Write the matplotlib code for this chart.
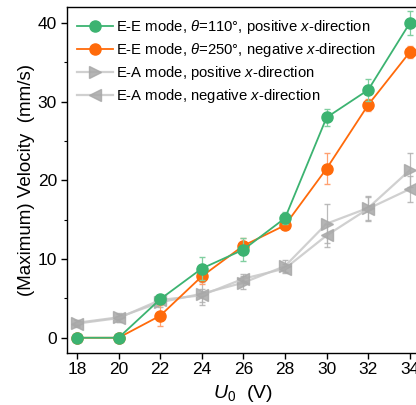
import matplotlib
matplotlib.use("Agg")
import matplotlib.pyplot as plt
from matplotlib.ticker import MultipleLocator

plt.rcParams['font.family'] = ['Liberation Sans', 'DejaVu Sans']
plt.rcParams['mathtext.fontset'] = 'custom'
plt.rcParams['mathtext.rm'] = 'Liberation Sans'
plt.rcParams['mathtext.it'] = 'Liberation Sans:italic'

U0 = [18, 20, 22, 24, 26, 28, 30, 32, 34]
ee_pos = [0, 0, 4.9, 8.8, 11.2, 15.2, 28.0, 31.5, 40.0]
ee_pos_err = [0, 0, 0.5, 1.4, 1.5, 0.8, 1.1, 1.4, 1.5]
ee_neg = [0, 0, 2.8, 7.8, 11.7, 14.3, 21.5, 29.6, 36.3]
ee_neg_err = [0, 0, 1.3, 1.0, 1.0, 0.5, 2.0, 0.8, 0.8]
ea_pos = [1.9, 2.6, 4.5, 5.6, 7.0, 9.1, 14.5, 16.5, 21.3]
ea_pos_err = [0.4, 0.6, 0.6, 1.5, 0.8, 0.8, 2.5, 1.5, 2.2]
ea_neg = [1.8, 2.5, 4.8, 5.4, 7.5, 8.8, 13.0, 16.4, 18.9]
ea_neg_err = [0.4, 0.5, 0.5, 0.8, 0.6, 0.6, 1.5, 1.5, 1.6]

labels = [r'E-E mode, $\theta$=110°, positive $x$-direction',
          r'E-E mode, $\theta$=250°, negative $x$-direction',
          r'E-A mode, positive $x$-direction',
          r'E-A mode, negative $x$-direction']

green = '#3cb371'
orange = '#ff6a0a'

fig = plt.figure(figsize=(4.16, 4.05), dpi=100)
ax = fig.add_axes([66.6/416, 1-352.7/405, 353.6/416, (352.7-7.3)/405])

# gray series
c_ep = ax.errorbar(U0, ea_pos, yerr=ea_pos_err, color='#c8c8c8', lw=1.6, marker='>', ms=8,
                   mfc='#a8a8a8', mec='#a8a8a8', ecolor='#b0b0b0', elinewidth=0.9, capsize=2.5,
                   alpha=0.85, zorder=2)
c_en = ax.errorbar(U0, ea_neg, yerr=ea_neg_err, color='#c8c8c8', lw=1.6, marker='<', ms=8,
                   mfc='#a8a8a8', mec='#a8a8a8', ecolor='#b0b0b0', elinewidth=0.9, capsize=2.5,
                   alpha=0.85, zorder=2)
# orange
c_on = ax.errorbar(U0, ee_neg, yerr=ee_neg_err, color=orange, lw=1.3, marker='o', ms=8,
                   mfc=orange, mec=orange, ecolor='#ffa070', elinewidth=0.9, capsize=2.5,
                   zorder=3)
# green
c_gp = ax.errorbar(U0, ee_pos, yerr=ee_pos_err, color=green, lw=1.3, marker='o', ms=8,
                   mfc=green, mec=green, ecolor='#80cfa0', elinewidth=0.9, capsize=2.5,
                   zorder=4)

ax.set_xlim(17.5, 34.5)
ax.set_ylim(-1.9, 42)
ax.set_xticks(U0)
ax.yaxis.set_major_locator(MultipleLocator(10))
ax.yaxis.set_minor_locator(MultipleLocator(5))
ax.tick_params(axis='both', which='major', direction='out', length=4, width=1,
               labelsize=12.5, pad=3)
ax.tick_params(axis='y', which='minor', direction='out', length=2.5, width=0.8)
for s in ax.spines.values():
    s.set_linewidth(1)

ax.set_xlabel(r'$U_0$  (V)', fontsize=14, labelpad=4)
ax.set_ylabel('(Maximum) Velocity  (mm/s)', fontsize=13.5, labelpad=2)

handles = [c_gp[0], c_on[0], c_ep[0], c_en[0]]
ax.legend(handles, labels, loc='upper left', frameon=False,
          fontsize=10.7, handlelength=2.4, handletextpad=0.2, labelspacing=0.35,
          borderaxespad=0.4, borderpad=0.3, bbox_to_anchor=(0.0, 1.0))

fig.savefig('out.png', dpi=100)
